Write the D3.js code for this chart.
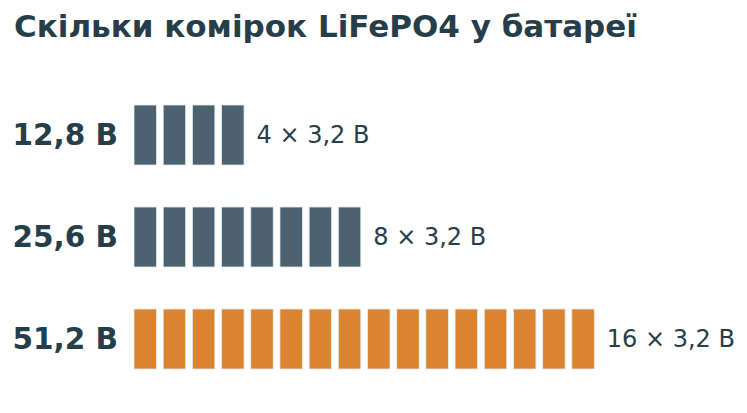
<!DOCTYPE html>
<html><head><meta charset="utf-8">
<script src="https://cdn.jsdelivr.net/npm/d3@7"></script>
<style>body{margin:0;background:#fff}</style></head>
<body><svg id="c" width="747" height="413"></svg>
<script>
const title = "Скільки комірок LiFePO4 у батареї";
const voltages = ["12,8 В", "25,6 В", "51,2 В"];
const cellCounts = [4, 8, 16];
const cellLabels = ["4 × 3,2 В", "8 × 3,2 В", "16 × 3,2 В"];
const highlight = [false, false, true];

const svg = d3.select("#c");
const font = "DejaVu Sans, sans-serif";
const dark = "#263d4a";
svg.append("text").attr("x", 14).attr("y", 37).text(title)
  .attr("font-family", font).attr("font-weight", "bold").attr("font-size", 31).attr("fill", dark);

const y = d3.scaleBand().domain(voltages).range([105, 369]).paddingInner(42 / 102).paddingOuter(0);
const x = d3.scaleLinear().domain([0, 16]).range([134, 601]);
const cw = 22.5;

voltages.forEach((v, i) => {
  const g = svg.append("g");
  const yy = y(v), h = y.bandwidth();
  g.append("text").attr("x", 118).attr("y", yy + h / 2).attr("dy", "0.35em")
    .attr("text-anchor", "end").text(v)
    .attr("font-family", font).attr("font-weight", "bold").attr("font-size", 29.5).attr("fill", dark);
  g.selectAll("rect").data(d3.range(cellCounts[i])).join("rect")
    .attr("x", d => x(d)).attr("y", yy).attr("width", cw).attr("height", h)
    .attr("fill", highlight[i] ? "#dc8330" : "#4d6270")
    .attr("stroke", "#e3eef3").attr("stroke-width", 0.8);
  g.append("text").attr("x", x(cellCounts[i] - 1) + cw + 12.5).attr("y", yy + h / 2).attr("dy", "0.35em")
    .text(cellLabels[i]).attr("font-family", font).attr("font-size", 24).attr("fill", dark);
});
</script></body></html>
